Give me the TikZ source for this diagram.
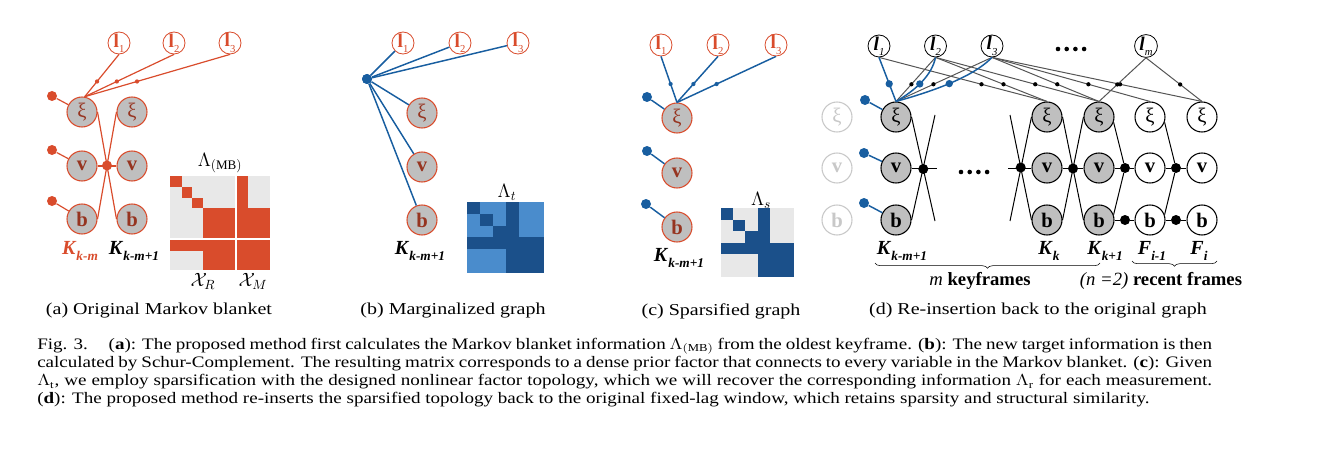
\documentclass[tikz,border=0pt]{standalone}
\usepackage{fontspec}
\setmainfont{Liberation Serif}
\usetikzlibrary{calc,decorations.pathreplacing}
\definecolor{ored}{RGB}{217,76,44}
\definecolor{dred}{RGB}{150,52,32}
\definecolor{ngray}{RGB}{191,191,191}
\definecolor{fblue}{RGB}{24,94,160}
\definecolor{mdblue}{RGB}{27,80,138}
\definecolor{mlblue}{RGB}{74,140,204}
\definecolor{mgray}{RGB}{232,232,232}
\definecolor{egray}{RGB}{85,85,85}
\definecolor{fade}{RGB}{200,200,200}
\newcommand{\nfont}{\fontsize{15.5}{16}\selectfont}
\newcommand{\capfont}{\fontsize{12}{14}\selectfont}
\newcommand{\Klab}[2]{\textbf{\textit{#1}}\raisebox{-5pt}{\fontsize{10}{10}\selectfont\textbf{\textit{#2}}}}
\newcommand{\lmup}[1]{\textbf{l}\raisebox{-4pt}{\fontsize{8}{8}\selectfont #1}}
\newcommand{\lmit}[1]{\textbf{\textit{l}}\raisebox{-4pt}{\fontsize{8}{8}\selectfont\textit{#1}}}
\newcommand{\capln}[1]{\scalebox{1.19}[1]{\makebox[740.5pt][s]{#1}}}
\tikzset{
  var/.style={circle,minimum size=22.5pt,inner sep=0pt,line width=0.8pt,font=\nfont},
  varA/.style={var,draw=ored,fill=ngray,text=dred},
  varK/.style={var,draw=black,fill=ngray},
  varR/.style={var,draw=black,fill=white},
  varF/.style={var,draw=fade,fill=white,text=fade},
  lmA/.style={circle,minimum size=16.5pt,inner sep=0pt,draw=ored,fill=white,text=ored,line width=0.6pt,font=\fontsize{14.5}{14}\selectfont},
  lmD/.style={circle,minimum size=16.5pt,inner sep=0pt,draw=black,fill=white,line width=0.6pt,font=\fontsize{14.5}{14}\selectfont},
  rline/.style={draw=ored,line width=0.9pt},
  bline/.style={draw=fblue,line width=1.1pt},
  kline/.style={draw=black,line width=0.75pt},
  gline/.style={draw=egray,line width=0.75pt},
  bigdotR/.style={circle,fill=ored,inner sep=0pt,minimum size=7.5pt},
  bigdotB/.style={circle,fill=fblue,inner sep=0pt,minimum size=7.5pt},
  bigdotK/.style={circle,fill=black,inner sep=0pt,minimum size=7.5pt},
  smdotR/.style={circle,fill=ored,inner sep=0pt,minimum size=3.2pt},
  smdotB/.style={circle,fill=fblue,inner sep=0pt,minimum size=3.2pt},
  meddotB/.style={circle,fill=fblue,inner sep=0pt,minimum size=5.5pt},
  smdotK/.style={circle,fill=black,inner sep=0pt,minimum size=3.2pt},
  lab/.style={inner sep=0pt,font=\fontsize{14}{14}\selectfont},
  klab/.style={inner sep=0pt,font=\fontsize{15}{15}\selectfont},
  subcap/.style={inner sep=0pt,font=\fontsize{12.5}{14}\selectfont},
  capline/.style={anchor=west,inner sep=0pt,font=\capfont},
}
\begin{document}
\begin{tikzpicture}[x=0.75pt,y=-0.75pt]
\useasboundingbox (0,0) rectangle (1318,453);
% ================= (a) =================
\node[lmA] (a-l1) at (119,43) {\lmup{1}};
\node[lmA] (a-l2) at (174,43) {\lmup{2}};
\node[lmA] (a-l3) at (230,43) {\lmup{3}};
\node[varA] (a-x1) at (82,112) {ξ};
\node[varA] (a-v1) at (82,166) {\textbf{v}};
\node[varA] (a-b1) at (82,219) {\textbf{b}};
\node[varA] (a-x2) at (132,112) {ξ};
\node[varA] (a-v2) at (132,166) {\textbf{v}};
\node[varA] (a-b2) at (132,219) {\textbf{b}};
\node[bigdotR] (a-p1) at (52,96) {};
\node[bigdotR] (a-p2) at (52,150) {};
\node[bigdotR] (a-p3) at (52,201) {};
\draw[rline] (a-p1) -- (a-x1);
\draw[rline] (a-p2) -- (a-v1);
\draw[rline] (a-p3) -- (a-b1);
\draw[rline] (a-x1.80) -- node[smdotR,pos=0.36] (a-s1) {} (a-l1.south);
\draw[rline] (a-x1.80) -- node[smdotR,pos=0.36] (a-s2) {} (a-l2.south);
\draw[rline] (a-x1.80) -- node[smdotR,pos=0.36] (a-s3) {} (a-l3.south);
\draw[rline] (a-x1.east) -- (a-b2.west);
\draw[rline] (a-b1.east) -- (a-x2.west);
\draw[rline] (a-v1) -- (a-v2);
\node[bigdotR] (a-f) at ($(a-x1.east)!0.5!(a-b2.west)$) {};
\node[klab,text=ored] (a-K1) at (80,251) {\Klab{K}{k-m}};
\node[klab] (a-K2) at (134,251) {\Klab{K}{k-m+1}};
% matrix Lambda MB
\fill[mgray] (170,176) rectangle (270,270);
\fill[ored] (170,176) rectangle (181.7,187.3);
\fill[ored] (181.7,187.3) rectangle (192.3,198.3);
\fill[ored] (192.3,198.3) rectangle (202.7,208.3);
\fill[ored] (202.7,208.3) rectangle (236,239);
\fill[ored] (236,176) rectangle (248.3,208.3);
\fill[ored] (236,208.3) rectangle (270,239);
\fill[ored] (170,239) rectangle (236,250.5);
\fill[ored] (202.7,250.5) rectangle (236,270);
\fill[ored] (236,239) rectangle (270,270);
\draw[white,line width=1.6pt] (236,176) -- (236,270);
\draw[white,line width=1.6pt] (170,239.3) -- (270,239.3);
\node[lab] (a-Lam) at (220,163) {$\Lambda_{(\mathrm{MB})}$};
\node[lab] (a-XR) at (203,281) {$\mathcal{X}_R$};
\node[lab] (a-XM) at (253,281) {$\mathcal{X}_M$};
% ================= (b) =================
\node[lmA] (b-l1) at (403,43) {\lmup{1}};
\node[lmA] (b-l2) at (460,43) {\lmup{2}};
\node[lmA] (b-l3) at (518,43) {\lmup{3}};
\node[varA] (b-x) at (422,113) {ξ};
\node[varA] (b-v) at (422,167) {\textbf{v}};
\node[varA] (b-b) at (422,220) {\textbf{b}};
\node[bigdotB] (b-f) at (367,79) {};
\draw[bline] (b-f) -- (b-l1);
\draw[bline] (b-f) -- (b-l2);
\draw[bline] (b-f) -- (b-l3);
\draw[bline] (b-f) -- (b-x);
\draw[bline] (b-f) -- (b-v);
\draw[bline] (b-f) -- (b-b);
\node[bigdotB] (b-f2) at (367,79) {};
\node[klab] (b-K) at (420,251) {\Klab{K}{k-m+1}};
\begin{scope}[shift={(467.3,201.7)},xscale=12.85,yscale=11.93]
\fill[mlblue] (0,0) rectangle (6,6);
\fill[mdblue] (0,0) rectangle (1,1);
\fill[mdblue] (1,1) rectangle (2,2);
\fill[mdblue] (2,2) rectangle (4,3);
\fill[mdblue] (3,0) rectangle (4,3);
\fill[mdblue] (0,3) rectangle (6,4);
\fill[mdblue] (3,4) rectangle (6,6);
\end{scope}
\node[lab] (b-Lam) at (507,192) {$\Lambda_t$};
% ================= (c) =================
\node[lmA] (c-l1) at (661,45) {\lmup{1}};
\node[lmA] (c-l2) at (718,45) {\lmup{2}};
\node[lmA] (c-l3) at (776,45) {\lmup{3}};
\node[varA] (c-x) at (677,118) {ξ};
\node[varA] (c-v) at (677,173) {\textbf{v}};
\node[varA] (c-b) at (677,227) {\textbf{b}};
\node[bigdotB] (c-p1) at (647,97) {};
\node[bigdotB] (c-p2) at (647,151) {};
\node[bigdotB] (c-p3) at (646,204) {};
\draw[bline] (c-p1) -- (c-x);
\draw[bline] (c-p2) -- (c-v);
\draw[bline] (c-p3) -- (c-b);
\draw[bline] (c-x.north) -- node[smdotB,pos=0.4] (c-s1) {} (c-l1.south);
\draw[bline] (c-x.north) -- node[smdotB,pos=0.4] (c-s2) {} (c-l2.south);
\draw[bline] (c-x.north) -- node[smdotB,pos=0.4] (c-s3) {} (c-l3.south);
\node[klab] (c-K) at (679,258) {\Klab{K}{k-m+1}};
\begin{scope}[shift={(721,208.3)},xscale=12.22,yscale=11.4]
\fill[mgray] (0,0) rectangle (6,6);
\fill[mdblue] (0,0) rectangle (1,1);
\fill[mdblue] (1,1) rectangle (2,2);
\fill[mdblue] (2,2) rectangle (4,3);
\fill[mdblue] (3,0) rectangle (4,3);
\fill[mdblue] (0,3) rectangle (6,4);
\fill[mdblue] (3,4) rectangle (6,6);
\end{scope}
\node[lab] (c-Lam) at (761,200) {$\Lambda_s$};
% ================= (d) =================
\node[lmD] (d-l1) at (879,46) {\lmit{1}};
\node[lmD] (d-l2) at (935.5,46) {\lmit{2}};
\node[lmD] (d-l3) at (992,46) {\lmit{3}};
\node[lmD] (d-lm) at (1146,46) {\lmit{m}};
\foreach \i/\xx in {1/1058,2/1066.7,3/1075.4,4/1084.1}
  \fill (\xx,49) circle (2.3);
\node[varF] (d-fx) at (837,117) {ξ};
\node[varF] (d-fv) at (837,168) {\textbf{v}};
\node[varF] (d-fb) at (837,220) {\textbf{b}};
\node[varK] (d-x1) at (896,117) {ξ};
\node[varK] (d-v1) at (896,168) {\textbf{v}};
\node[varK] (d-b1) at (896,220) {\textbf{b}};
\node[varK] (d-xk) at (1047,117) {ξ};
\node[varK] (d-vk) at (1047,168) {\textbf{v}};
\node[varK] (d-bk) at (1047,220) {\textbf{b}};
\node[varK] (d-xk1) at (1099,117) {ξ};
\node[varK] (d-vk1) at (1099,168) {\textbf{v}};
\node[varK] (d-bk1) at (1099,220) {\textbf{b}};
\node[varR] (d-xi1) at (1150,117) {ξ};
\node[varR] (d-vi1) at (1150,168) {\textbf{v}};
\node[varR] (d-bi1) at (1150,220) {\textbf{b}};
\node[varR] (d-xi) at (1202,117) {ξ};
\node[varR] (d-vi) at (1202,168) {\textbf{v}};
\node[varR] (d-bi) at (1202,220) {\textbf{b}};
% landmark edges (gray)
\draw[gline] (d-l2.south) -- node[smdotK,pos=0.61] (d-g1) {} (d-x1.north);
\draw[gline] (d-l3.south) -- node[smdotK,pos=0.61] (d-g2) {} (d-x1.north);
\draw[gline] (d-l1.south) -- node[smdotK,pos=0.61] (d-g3) {} (d-xk.north);
\draw[gline] (d-l2.south) -- node[smdotK,pos=0.61] (d-g4) {} (d-xk.north);
\draw[gline] (d-l2.south) -- node[smdotK,pos=0.61] (d-g5) {} (d-xk1.north);
\draw[gline] (d-l3.south) -- node[smdotK,pos=0.61] (d-g6) {} (d-xk1.north);
\draw[gline] (d-l3.south) -- node[smdotK,pos=0.61] (d-g7) {} (d-xi1.north);
\draw[gline] (d-l3.south) -- node[smdotK,pos=0.61] (d-g8) {} (d-xi.north);
\draw[gline] (d-lm.south) -- node[smdotK,pos=0.61] (d-g9) {} (d-xk1.north);
\draw[gline] (d-lm.south) -- node[smdotK,pos=0.61] (d-g10) {} (d-xi.north);
% sparsified edges (blue)
\draw[bline] (d-x1.north) -- node[meddotB,pos=0.4] (d-bb1) {} (d-l1.south);
\draw[bline] (d-x1.north) .. controls (916,90) and (932,75) .. node[meddotB,pos=0.45] (d-bb2) {} (d-l2.south);
\draw[bline] (d-x1.north) .. controls (930,92) and (972,78) .. node[meddotB,pos=0.5] (d-bb3) {} (d-l3.south);
\node[bigdotB] (d-p1) at (865,100) {};
\node[bigdotB] (d-p2) at (864,153) {};
\node[bigdotB] (d-p3) at (864,203) {};
\draw[bline] (d-p1) -- (d-x1);
\draw[bline] (d-p2) -- (d-v1);
\draw[bline] (d-p3) -- (d-b1);
% IMU factors
\coordinate (d-e1) at (935,221);
\coordinate (d-e2) at (935,115);
\coordinate (d-e3) at (937,168);
\draw[kline] (d-x1.east) -- (d-e1);
\draw[kline] (d-b1.east) -- (d-e2);
\draw[kline] (d-v1) -- (d-e3);
\node[bigdotK] (d-f1) at ($(d-x1.east)!0.5!(d-e1)$) {};
\coordinate (d-e4) at (1010,115);
\coordinate (d-e5) at (1010,221);
\coordinate (d-e6) at (1008,168);
\draw[kline] (d-e4) -- (d-bk.west);
\draw[kline] (d-e5) -- (d-xk.west);
\draw[kline] (d-e6) -- (d-vk);
\node[bigdotK] (d-f2) at ($(d-e4)!0.5!(d-bk.west)$) {};
\foreach \i/\xx in {1/961,2/969.7,3/978.4,4/987.1}
  \fill (\xx,172) circle (2.3);
\draw[kline] (d-xk.east) -- (d-bk1.west);
\draw[kline] (d-bk.east) -- (d-xk1.west);
\draw[kline] (d-vk) -- (d-vk1);
\node[bigdotK] (d-f3) at ($(d-xk.east)!0.5!(d-bk1.west)$) {};
\node[bigdotK] (d-f4) at (1125,168) {};
\node[bigdotK] (d-f5) at (1125,220) {};
\draw[kline] (d-xk1.-20) -- (d-f4);
\draw[kline] (d-bk1.20) -- (d-f4);
\draw[kline] (d-vk1) -- (d-f4) -- (d-vi1);
\draw[kline] (d-bk1) -- (d-f5) -- (d-bi1);
\node[bigdotK] (d-f6) at (1176,168) {};
\node[bigdotK] (d-f7) at (1176,220) {};
\draw[kline] (d-xi1.-20) -- (d-f6);
\draw[kline] (d-bi1.20) -- (d-f6);
\draw[kline] (d-vi1) -- (d-f6) -- (d-vi);
\draw[kline] (d-bi1) -- (d-f7) -- (d-bi);
% labels
\node[klab] (d-K1) at (902,251) {\Klab{K}{k-m+1}};
\node[klab] (d-Kk) at (1049,251) {\Klab{K}{k}};
\node[klab] (d-Kk1) at (1105,251) {\Klab{K}{k+1}};
\node[klab] (d-F1) at (1152,251) {\Klab{F}{i-1}};
\node[klab] (d-F2) at (1199,251) {\Klab{F}{i}};
\coordinate (d-br1a) at (875,263);
\coordinate (d-br1b) at (1100,263);
\draw[decorate,decoration={brace,amplitude=4pt}] (d-br1b) -- (d-br1a);
\coordinate (d-br2a) at (1132,261);
\coordinate (d-br2b) at (1217,261);
\draw[decorate,decoration={brace,amplitude=4pt}] (d-br2b) -- (d-br2a);
\node[lab] (d-mk) at (980,281) {\textit{m} \textbf{keyframes}};
\node[lab] (d-rf) at (1161,281) {\textit{(n =2)} \textbf{recent frames}};
% ================= captions =================
\node[subcap] (sa) at (159,311) {\scalebox{1.2}[1]{(a) Original Markov blanket}};
\node[subcap] (sb) at (453,311) {\scalebox{1.2}[1]{(b) Marginalized graph}};
\node[subcap] (sc) at (721,311) {\scalebox{1.2}[1]{(c) Sparsified graph}};
\node[subcap] (sd) at (1038,311) {\scalebox{1.2}[1]{(d) Re-insertion back to the original graph}};
\node[capline] (cap1) at (37,346) {\capln{Fig. 3.\hspace{1.1em}(\textbf{a}): The proposed method first calculates the Markov blanket information $\Lambda_{(\mathrm{MB})}$ from the oldest keyframe. (\textbf{b}): The new target information is then}};
\node[capline] (cap2) at (37,364) {\capln{calculated by Schur-Complement. The resulting matrix corresponds to a dense prior factor that connects to every variable in the Markov blanket. (\textbf{c}): Given}};
\node[capline] (cap3) at (37,382) {\capln{$\Lambda_{\mathrm{t}}$, we employ sparsification with the designed nonlinear factor topology, which we will recover the corresponding information $\Lambda_{\mathrm{r}}$ for each measurement.}};
\node[capline] (cap4) at (37,400) {\scalebox{1.19}[1]{(\textbf{d}): The proposed method re-inserts the sparsified topology back to the original fixed-lag window, which retains sparsity and structural similarity.}};
\end{tikzpicture}
\end{document}
